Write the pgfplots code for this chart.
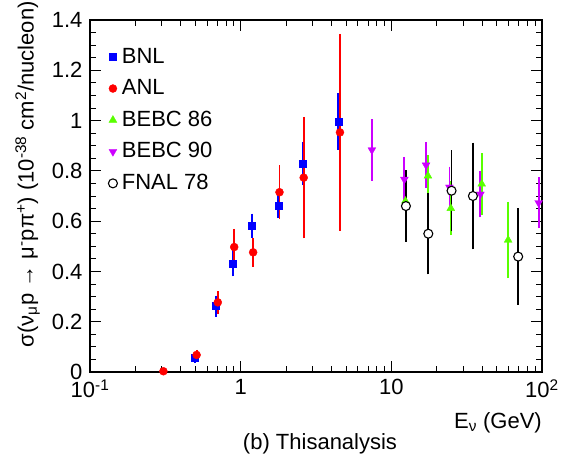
\documentclass[border=0pt]{standalone}
\usepackage{pgfplots}
\pgfplotsset{compat=1.18}
\usepackage{fontspec}
\setmainfont{Liberation Sans}
\definecolor{bnl}{rgb}{0,0,1}
\definecolor{anl}{rgb}{1,0,0}
\definecolor{bebcA}{rgb}{0.35,1,0}
\definecolor{bebcB}{rgb}{0.8,0,1}
\pgfplotsset{
  eb/.style={error bars/.cd, y dir=both, y explicit,
    error bar style={line width=1.8bp, draw=#1},
    error mark options={line width=1.8bp, mark size=3bp, draw=#1, rotate=0}},
}
\begin{document}
\fontsize{22bp}{26bp}\selectfont
\begin{tikzpicture}
\begin{axis}[
  scale only axis, width=452bp, height=352bp,
  xmode=log, xmin=0.1, xmax=100, ymin=0, ymax=1.4,
  xtick={0.1,1,10,100},
  xticklabels={10\textsuperscript{-1},1,10,10\textsuperscript{2}},
  ytick={0,0.2,0.4,0.6,0.8,1,1.2,1.4},
  minor y tick num=3,
  yticklabel style={/pgf/number format/fixed,/pgf/number format/precision=1},
  /pgf/number format/assume math mode=true,
  ticklabel style={font=\fontsize{22bp}{26bp}\selectfont},
  major tick length=11bp, minor tick length=6bp,
  tick style={black, line width=0.9bp},
  axis line style={line width=1.1bp},
  clip=false,
  legend cell align=left,
  legend style={draw=none, fill=none, at={(0.037,0.927)}, anchor=north west,
    inner sep=0pt, row sep=9bp, font=\fontsize{22bp}{26bp}\selectfont},
  legend image code/.code={\path[draw=none, fill=none] (0bp,-3bp) rectangle (13bp,3bp); \draw[#1] plot coordinates {(6bp,0bp)};},
]
\addplot[only marks, mark=square*, mark size=3.5bp, color=bnl, eb=bnl]
  table[x=x, y=y, y error=e] {
x y e
0.495 0.055 0.008
0.687 0.262 0.03
0.888 0.432 0.04
1.184 0.582 0.036
1.78 0.662 0.038
2.57 0.829 0.074
4.45 0.996 0.10
};
\addlegendentry{BNL}
\addplot[only marks, mark=*, mark size=4bp, color=anl, eb=anl]
  table[x=x, y=y, y error=e] {
x y e
0.307 0.003 0.002
0.51 0.068 0.008
0.705 0.277 0.033
0.906 0.497 0.06
1.21 0.476 0.046
1.81 0.715 0.095
2.62 0.773 0.23
4.56 0.953 0.38
};
\addlegendentry{ANL}
\addplot[only marks, mark=triangle*, mark size=4.5bp, color=bebcA, eb=bebcA]
  table[x=x, y=y, y error=e] {
x y e
12.4 0.68 0.05
17.5 0.78 0.07
24.8 0.651 0.095
39.8 0.748 0.11
59.6 0.525 0.14
};
\addlegendentry{BEBC 86}
\addplot[only marks, mark=triangle*, mark options={rotate=180}, mark size=4.5bp, color=bebcB, eb=bebcB]
  table[x=x, y=y, y error=e] {
x y e
7.43 0.883 0.11
12.2 0.766 0.078
17.0 0.823 0.08
24.3 0.735 0.07
39.0 0.707 0.08
95 0.673 0.09
};
\addlegendentry{BEBC 90}
\addplot[only marks, mark=*, mark size=4.5bp, color=black, mark options={fill=white, line width=1.1bp}, eb=black]
  table[x=x, y=y, y error=e] {
x y e
12.5 0.660 0.13
17.6 0.55 0.15
25.1 0.721 0.15
34.8 0.70 0.20
69.5 0.459 0.18
};
\addlegendentry{FNAL 78}
\end{axis}
\node[rotate=90, anchor=south east, inner sep=0pt] at ([shift={(-50bp,19bp)}]current axis.north west)
  {σ(ν\textsubscript{μ}p → μ\textsuperscript{-}pπ\textsuperscript{+}) (10\textsuperscript{-38} cm\textsuperscript{2}/nucleon)};
\node[anchor=base east, inner sep=0pt] at ([shift={(0bp,-56bp)}]current axis.south east)
  {E\textsubscript{ν} (GeV)};
\node[anchor=base, inner sep=0pt] at ([shift={(230bp,-77bp)}]current axis.south west)
  {(b) Thisanalysis};
\pgfresetboundingbox
\path ([shift={(-90bp,-89bp)}]current axis.south west) rectangle ([shift={(25bp,20bp)}]current axis.north east);
\end{tikzpicture}
\end{document}
